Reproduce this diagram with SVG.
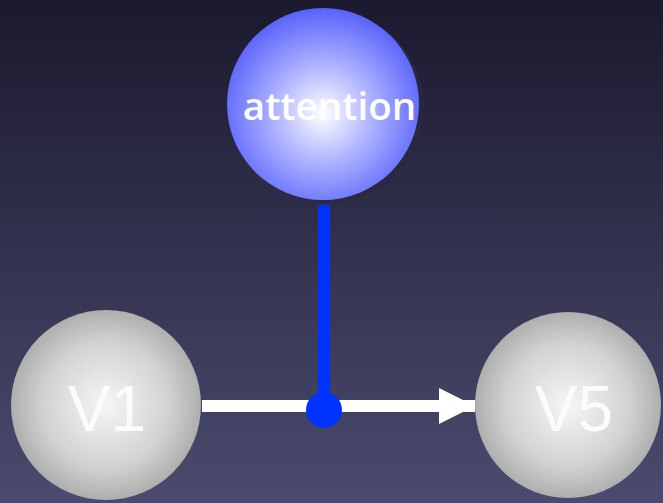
<svg xmlns="http://www.w3.org/2000/svg" width="663" height="503" viewBox="0 0 663 503">
  <defs>
    <linearGradient id="bg" x1="0" y1="0" x2="0" y2="1">
      <stop offset="0" stop-color="#1b192e"/>
      <stop offset="1" stop-color="#4b4b6f"/>
    </linearGradient>
    <radialGradient id="gBlue" cx="0.5" cy="0.55" r="0.55">
      <stop offset="0" stop-color="#ffffff"/>
      <stop offset="0.45" stop-color="#b0b5ff"/>
      <stop offset="1" stop-color="#5862fb"/>
    </radialGradient>
    <radialGradient id="gGray" cx="0.5" cy="0.5" r="0.55">
      <stop offset="0" stop-color="#f6f6f6"/>
      <stop offset="0.6" stop-color="#d2d2d2"/>
      <stop offset="1" stop-color="#a4a4a4"/>
    </radialGradient>
    <marker id="arrow" markerUnits="userSpaceOnUse" markerWidth="40" markerHeight="40" refX="36" refY="18" orient="auto">
      <path d="M0,0 L36,18 L0,36 Z" fill="#ffffff"/>
    </marker>
  </defs>
  <style>
    .vtext { font-family: "Liberation Sans", Arial, sans-serif; font-size: 64px; fill: #fbfbfb; text-anchor: middle; }
    .atext { font-family: "Open Sans", "Noto Sans", sans-serif; font-size: 38.5px; font-weight: 600; fill: #ffffff; text-anchor: middle; }
  </style>
  <rect x="0" y="0" width="663" height="503" fill="url(#bg)"/>

  <g id="connectors">
    <line x1="202" y1="406" x2="475" y2="406" stroke="#ffffff" stroke-width="12" marker-end="url(#arrow)"/>
    <line x1="324" y1="205" x2="324" y2="408" stroke="#0033ff" stroke-width="12"/>
    <circle cx="324" cy="410" r="18" fill="#0033ff"/>
  </g>

  <g id="attention">
    <circle cx="328" cy="107" r="96" fill="#2a2844" opacity="0.8"/>
    <circle cx="323" cy="104" r="96" fill="url(#gBlue)"/>
    <text class="atext" x="329.5" y="120">attention</text>
  </g>

  <g id="V1">
    <circle cx="106" cy="405" r="95" fill="url(#gGray)"/>
    <text class="vtext" x="107" y="431">V1</text>
  </g>

  <g id="V5">
    <circle cx="568" cy="405" r="93" fill="url(#gGray)"/>
    <text class="vtext" x="574" y="431">V5</text>
  </g>
</svg>
